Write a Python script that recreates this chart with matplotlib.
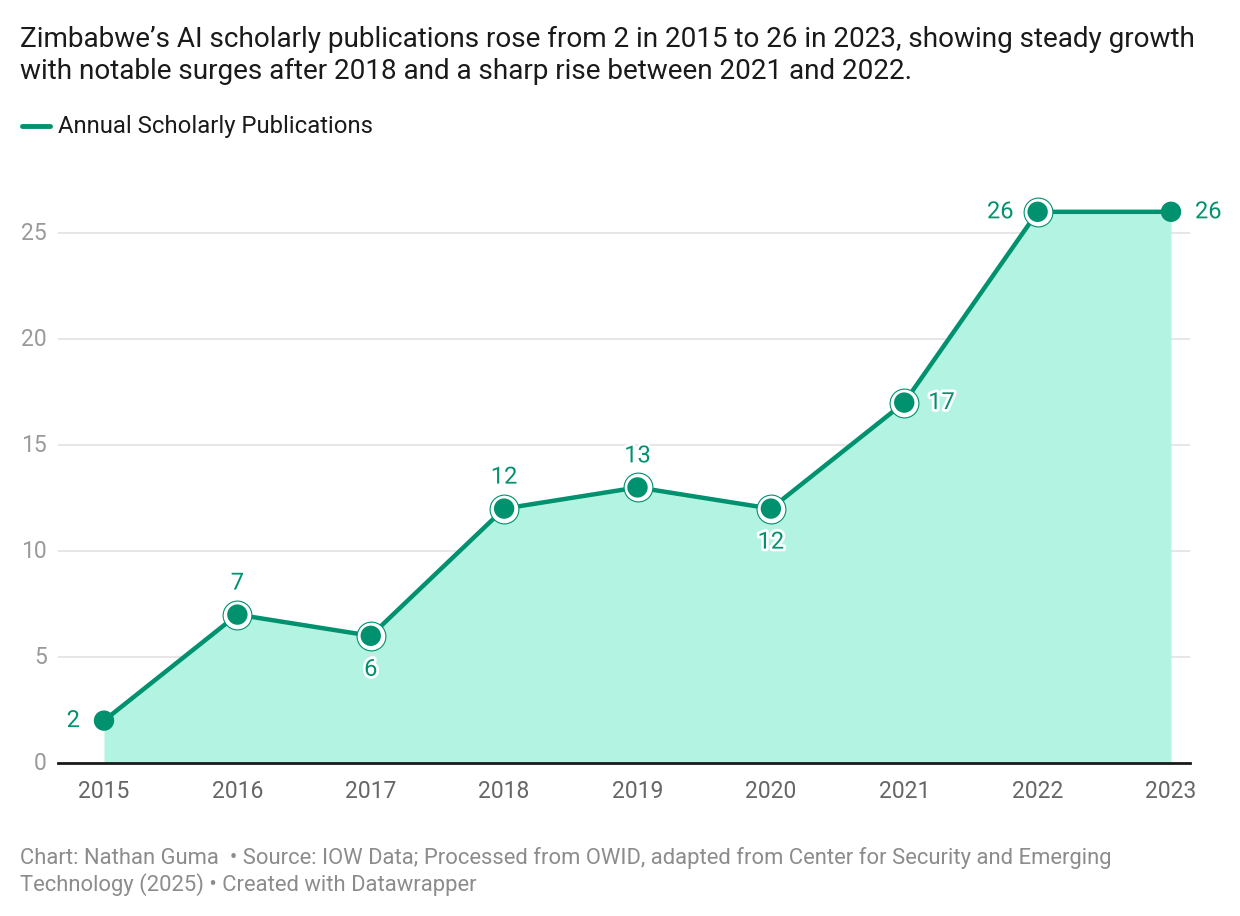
import matplotlib
matplotlib.use("Agg")
import matplotlib.pyplot as plt
import matplotlib.patheffects as pe

years = [2015, 2016, 2017, 2018, 2019, 2020, 2021, 2022, 2023]
pubs = [2, 7, 6, 12, 13, 12, 17, 26, 26]
label_pos = ["left", "above", "below", "above", "above", "below", "right", "left", "right"]
halo = [False, True, True, True, True, True, True, True, False]
yticks = [0, 5, 10, 15, 20, 25]

title = ("Zimbabwe\u2019s AI scholarly publications rose from 2 in 2015 to 26 in 2023, showing steady growth\n"
         "with notable surges after 2018 and a sharp rise between 2021 and 2022.")
legend_label = "Annual Scholarly Publications"
footer = ("Chart: Nathan Guma  \u2022 Source: IOW Data; Processed from OWID, adapted from Center for Security and Emerging\n"
          "Technology (2025) \u2022 Created with Datawrapper")

GREEN = "#00916f"
FILL = "#b3f3e2"
plt.rcParams['font.family'] = ['Roboto', 'DejaVu Sans']

W, H = 1240, 916
fig = plt.figure(figsize=(W / 100, H / 100), dpi=100)
ax = fig.add_axes([58 / W, (H - 763) / H, (1190 - 58) / W, (763 - 169.4) / H])

ax.fill_between(years, pubs, 0, color=FILL, lw=0, zorder=1)
ax.plot(years, pubs, color=GREEN, lw=3.2, zorder=3, solid_capstyle='round')
for x, y, h in zip(years, pubs, halo):
    if h:
        ax.scatter([x], [y], s=430, facecolor='white', edgecolor=GREEN, linewidth=0.8, zorder=4)
    ax.scatter([x], [y], s=215, facecolor=GREEN, edgecolor='none', zorder=5)

for x, y, p in zip(years, pubs, label_pos):
    if p == "above":
        kw = dict(xytext=(0, 20), ha='center', va='bottom')
    elif p == "below":
        kw = dict(xytext=(0, -22), ha='center', va='top')
    elif p == "left":
        kw = dict(xytext=(-24, 0), ha='right', va='center')
    else:
        kw = dict(xytext=(24, 0), ha='left', va='center')
    ax.annotate(str(y), (x, y), textcoords='offset pixels', fontsize=17, color=GREEN, zorder=6,
                path_effects=[pe.withStroke(linewidth=4, foreground='white')], **kw)

ax.set_xlim(2015 - 46 / 133.375, 2023 + 19 / 133.375)
ax.set_ylim(0, 28)
ax.set_yticks(yticks)
ax.set_xticks(years)
ax.set_xticklabels([str(y) for y in years])
ax.grid(axis='y', color='#e2e2e2', lw=1.2, zorder=0)
ax.set_axisbelow(True)
for s in ['top', 'right', 'left']:
    ax.spines[s].set_visible(False)
ax.spines['bottom'].set_color('#1a1a1a')
ax.spines['bottom'].set_linewidth(2)
ax.spines['bottom'].set_zorder(7)
ax.tick_params(axis='y', length=0, pad=8, labelsize=16.5, labelcolor='#9a9a9a')
ax.tick_params(axis='x', length=0, pad=12, labelsize=16.5, labelcolor='#666666')
for lab in ax.get_yticklabels():
    lab.set_verticalalignment('center')

fig.text(20 / W, 1 - 26 / H, title, fontsize=20.1, color='#1a1a1a', va='top', ha='left', linespacing=1.25)
fig.add_artist(plt.Line2D([22 / W, 50 / W], [1 - 126 / H] * 2, color=GREEN, lw=3.5, solid_capstyle='round'))
fig.text(58 / W, 1 - 127 / H, legend_label, fontsize=17.2, color='#1a1a1a', va='center', ha='left')
fig.text(20 / W, 1 - 847 / H, footer, fontsize=15.8, color='#8c8c8c', va='top', ha='left', linespacing=1.2)

fig.savefig("out.png", dpi=100, facecolor='white')
